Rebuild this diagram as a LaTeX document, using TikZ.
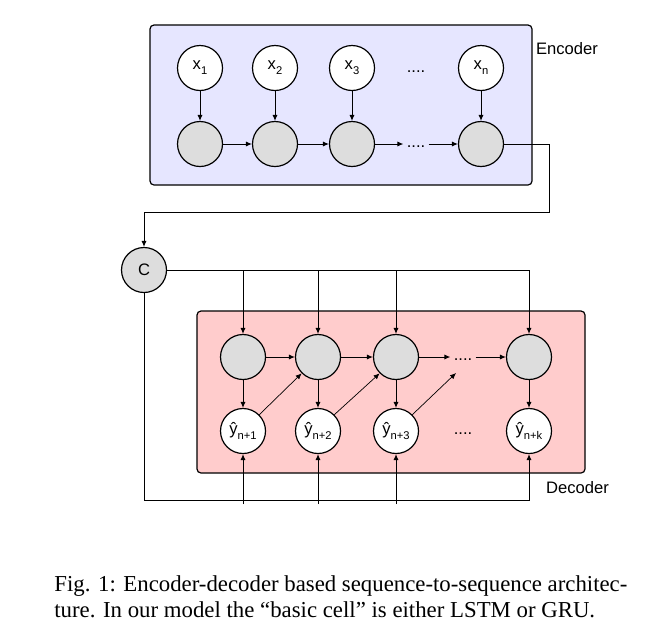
\documentclass[tikz,border=0pt]{standalone}
\usepackage{fontspec}
\setmainfont{Liberation Serif}
\newfontfamily\diagfont{Liberation Sans}
\usetikzlibrary{arrows.meta,calc}
\definecolor{encbg}{RGB}{230,230,255}
\definecolor{decbg}{RGB}{255,204,204}
\definecolor{cellgray}{RGB}{221,221,221}
\newcommand{\lo}[1]{\raisebox{-0.55ex}{\fontsize{5.6}{6}\selectfont#1}}
\tikzset{
	cell/.style={circle, draw, fill=cellgray, minimum size=22.5pt, inner sep=0pt, line width=0.6pt},
	io/.style={cell, fill=white},
	arr/.style={-{Latex[length=3pt,width=2.6pt]}, line width=0.5pt},
	thinarr/.style={arr, line width=0.35pt},
	dots/.style={inner sep=1.5pt}
}
\begin{document}
\begin{tikzpicture}[x=0.5pt, y=-0.5pt, font=\diagfont\fontsize{8.3}{10}\selectfont]
		\useasboundingbox (0,0) rectangle (646,633);
		% encoder
		\draw[rounded corners=2pt, fill=encbg, line width=0.6pt] (150,25) rectangle (532,185);
		\node[anchor=west] (enclabel) at (529,49) {Encoder};
		\foreach \n/\x/\t in {1/200/1, 2/275/2, 3/352/3, n/481/n} {
			\node[io] (x\n) at (\x,68) {x\lo{\t}};
			\node[cell] (e\n) at (\x,144) {};
			\draw[arr] (x\n) -- (e\n);
		}
		\node[dots] (xdots) at (416,72) {....};
		\node[dots] (edots) at (416,147) {....};
		\draw[arr] (e1) -- (e2);
		\draw[arr] (e2) -- (e3);
		\draw[arr] (e3) -- (e3 -| edots.west);
		\draw[arr] (en -| edots.east) -- (en);
		% context
		\node[cell] (C) at (144,270) {C};
		\coordinate (turn) at (549,212);
		\draw[arr] (en) -| (turn) -| (C);
		% decoder
		\draw[rounded corners=2pt, fill=decbg, line width=0.6pt] (197,311) rectangle (585,473);
		\node[anchor=west] (declabel) at (539,488) {Decoder};
		\foreach \k/\x/\t in {1/243/n+1, 2/318/n+2, 3/396/n+3, k/529/n+k} {
			\node[cell] (d\k) at (\x,357) {};
			\node[io] (y\k) at (\x,431) {ŷ\lo{\t}};
			\draw[arr] (d\k) -- (y\k);
		}
		\node[dots] (ddots) at (463,360) {....};
		\node[dots] (ydots) at (463,434) {....};
		\draw[arr] (d1) -- (d2);
		\draw[arr] (d2) -- (d3);
		\draw[arr] (d3) -- (d3 -| ddots.west);
		\draw[arr] (dk -| ddots.east) -- (dk);
		\coordinate (free) at (456,373);
		\draw[thinarr] (y1.north east) -- (d2.south west);
		\draw[thinarr] (y2.north east) -- (d3.south west);
		\draw[thinarr] (y3.north east) -- (free);
		% context into every step
		\draw[arr] (C) -| (dk);
		\coordinate (bot) at (529,500);
		\draw[arr] (C) |- (bot) -- (yk);
		\foreach \k in {1,2,3} {
			\draw[arr] (C -| d\k) -- (d\k);
			\draw[arr] ($(y\k |- bot)+(0,4)$) -- (y\k);
		}
		\node[anchor=base west, text width=286.5pt, align=justify, inner sep=0pt,
			font=\rmfamily\fontsize{11.4}{13}\selectfont] (caption) at (54,591)
			{Fig. 1: Encoder-decoder based sequence-to-sequence architec-\linebreak ture. In our model the “basic cell” is either LSTM or GRU.};
\end{tikzpicture}
\end{document}
